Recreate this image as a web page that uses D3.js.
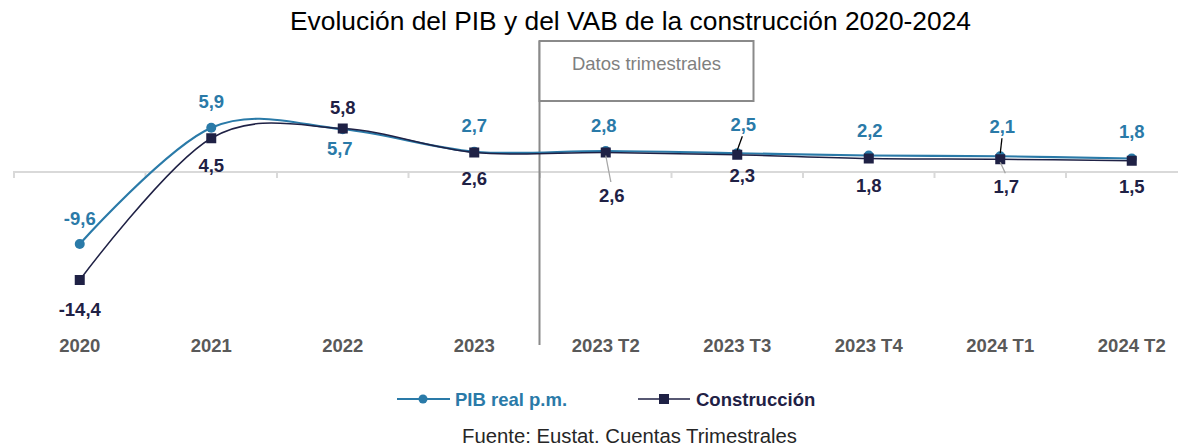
<!DOCTYPE html>
<html>
<head>
<meta charset="utf-8">
<script src="https://cdn.jsdelivr.net/npm/d3@7"></script>
<style>
  html, body { margin: 0; padding: 0; background: #ffffff; }
  svg { display: block; font-family: "Liberation Sans", Arial, sans-serif; }
</style>
</head>
<body>
<svg id="chart" width="1178" height="447"></svg>
<script>
// ---- data ----
const categories = ["2020", "2021", "2022", "2023", "2023 T2", "2023 T3", "2023 T4", "2024 T1", "2024 T2"];
const pib = [-9.6, 5.9, 5.7, 2.7, 2.8, 2.5, 2.2, 2.1, 1.8];
const construccion = [-14.4, 4.5, 5.8, 2.6, 2.6, 2.3, 1.8, 1.7, 1.5];
const seriesNames = ["PIB real p.m.", "Construcción"];
const titleText = "Evolución del PIB y del VAB de la construcción 2020-2024";
const sourceText = "Fuente: Eustat. Cuentas Trimestrales";
const boxText = "Datos trimestrales";
const quarterlyStart = "2023 T2";

// label placement (pixel offsets from the point: [dx, dy, leader])
const pibLabelOffsets = [[0,-19,0],[0,-20,0],[-3,26,0],[0,-20,0],[-2,-19,0],[6,-22,1],[1,-18.5,0],[2,-23,1],[0,-20.5,0]];
const conLabelOffsets = [[0,36,0],[0,34,0],[0,-14.5,0],[0,32.5,0],[6,49.5,1],[5,27,0],[0,33.5,0],[6,34,1],[0,32,0]];

// ---- styles ----
const colPib = "#2a7aa8";
const colCon = "#1f2145";
const colAxisLabel = "#595959";

const svg = d3.select("#chart");
const W = 1178;

const x = d3.scaleBand().domain(categories).range([14, 14 + 9 * 131.5]).padding(0);
const y = d3.scaleLinear().domain([-16, 8]).range([172 + 16 * 7.5, 172 - 8 * 7.5]);
const cx = d => x(d) + x.bandwidth() / 2;

// title
svg.append("text")
  .attr("x", 290).attr("y", 30)
  .attr("font-size", 26)
  .attr("fill", "#000")
  .attr("textLength", 681).attr("lengthAdjust", "spacingAndGlyphs")
  .text(titleText);

// zero axis line with ticks at band boundaries
const axisG = svg.append("g").attr("transform", `translate(0,${y(0)})`);
axisG.append("line")
  .attr("x1", 13).attr("x2", W).attr("y1", 0).attr("y2", 0)
  .attr("stroke", "#d9d9d9").attr("stroke-width", 2);
axisG.selectAll("line.tick")
  .data(categories)
  .enter().append("line")
  .attr("class", "tick")
  .attr("x1", d => x(d)).attr("x2", d => x(d))
  .attr("y1", 0).attr("y2", 6)
  .attr("stroke", "#d9d9d9").attr("stroke-width", 2);

// category labels at the bottom
const bottomAxis = d3.axisBottom(x).tickSize(0).tickPadding(0);
const bg = svg.append("g").attr("transform", "translate(0,338)").call(bottomAxis);
bg.select(".domain").remove();
bg.selectAll("text")
  .attr("font-family", "'Liberation Sans', Arial, sans-serif")
  .attr("font-size", 18.5)
  .attr("font-weight", "bold")
  .attr("fill", colAxisLabel)
  .attr("dy", "0.76em");

// divider + box
const divX = x(quarterlyStart) - 0.5;
svg.append("line")
  .attr("x1", divX).attr("x2", divX).attr("y1", 41).attr("y2", 345)
  .attr("stroke", "#8a8a8a").attr("stroke-width", 2);
svg.append("rect")
  .attr("x", divX).attr("y", 41).attr("width", 214).attr("height", 60)
  .attr("fill", "#fff").attr("stroke", "#8a8a8a").attr("stroke-width", 2);
svg.append("text")
  .attr("x", divX + 107).attr("y", 70)
  .attr("text-anchor", "middle")
  .attr("font-size", 18.5).attr("fill", "#7f7f7f")
  .text(boxText);

// lines
const line = d3.line()
  .x((d, i) => cx(categories[i]))
  .y(d => y(d))
  .curve(d3.curveCardinal.tension(0));

svg.append("path").datum(pib)
  .attr("d", line).attr("fill", "none")
  .attr("stroke", colPib).attr("stroke-width", 2.2);
svg.append("path").datum(construccion)
  .attr("d", line).attr("fill", "none")
  .attr("stroke", colCon).attr("stroke-width", 1.5);

// markers
svg.selectAll("circle.pib").data(pib).enter().append("circle")
  .attr("class", "pib")
  .attr("cx", (d, i) => cx(categories[i])).attr("cy", d => y(d))
  .attr("r", 5).attr("fill", colPib);
svg.selectAll("rect.con").data(construccion).enter().append("rect")
  .attr("class", "con")
  .attr("x", (d, i) => cx(categories[i]) - 5).attr("y", d => y(d) - 5)
  .attr("width", 10).attr("height", 10).attr("fill", colCon);

// data labels
const fmt = v => String(v).replace(".", ",");
function addLabels(values, offsets, color, leaderColor) {
  values.forEach((v, i) => {
    const px = cx(categories[i]), py = y(v);
    const [dx, dy, leader] = offsets[i];
    const lx = px + dx, ly = py + dy;
    if (leader) {
      const above = dy < 0;
      const endY = above ? ly + 5 : ly - 20;
      const startY = above ? py - 3 : py + 3;
      svg.append("line")
        .attr("x1", px).attr("y1", startY)
        .attr("x2", px + dx * 0.85).attr("y2", endY)
        .attr("stroke", leaderColor).attr("stroke-width", 1.3);
    }
    svg.append("text")
      .attr("x", lx).attr("y", ly)
      .attr("text-anchor", "middle")
      .attr("font-size", 18.5).attr("font-weight", "bold")
      .attr("fill", color)
      .text(fmt(v));
  });
}
addLabels(pib, pibLabelOffsets, colPib, "#000000");
addLabels(construccion, conLabelOffsets, colCon, "#a6a6a6");

// legend
const lg = svg.append("g");
lg.append("line").attr("x1", 397).attr("x2", 450).attr("y1", 399).attr("y2", 399)
  .attr("stroke", colPib).attr("stroke-width", 2.2);
lg.append("circle").attr("cx", 423).attr("cy", 399).attr("r", 4.5).attr("fill", colPib);
lg.append("text").attr("x", 455).attr("y", 405.5)
  .attr("font-size", 18.5).attr("font-weight", "bold").attr("fill", colPib)
  .text(seriesNames[0]);
lg.append("line").attr("x1", 638).attr("x2", 690).attr("y1", 399).attr("y2", 399)
  .attr("stroke", colCon).attr("stroke-width", 1.5);
lg.append("rect").attr("x", 659).attr("y", 394).attr("width", 10).attr("height", 10).attr("fill", colCon);
lg.append("text").attr("x", 696).attr("y", 405.5)
  .attr("font-size", 18.5).attr("font-weight", "bold").attr("fill", colCon)
  .text(seriesNames[1]);

// source
svg.append("text")
  .attr("x", 462).attr("y", 443)
  .attr("font-size", 20.5).attr("fill", "#262626")
  .attr("textLength", 335).attr("lengthAdjust", "spacingAndGlyphs")
  .text(sourceText);
</script>
</body>
</html>
